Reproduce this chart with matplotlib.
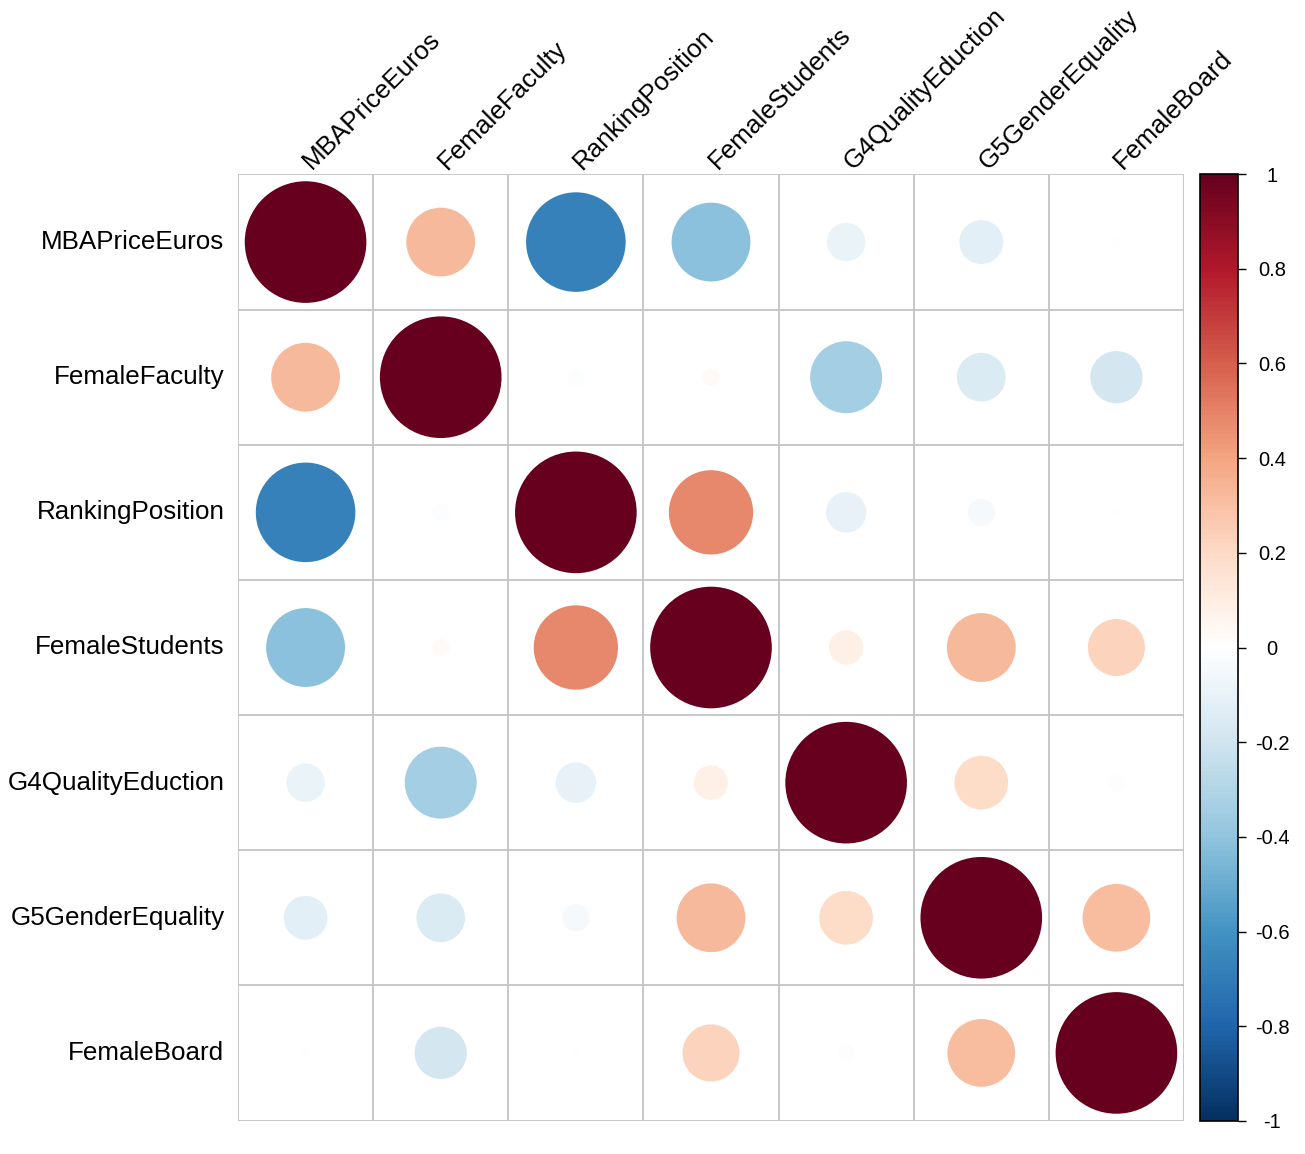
import matplotlib.pyplot as plt
import matplotlib.colors as mcolors
from matplotlib.patches import Circle
import matplotlib.cm as cm
import numpy as np

plt.rcParams['font.family'] = ['Liberation Sans', 'DejaVu Sans']

labels = ['MBAPriceEuros', 'FemaleFaculty', 'RankingPosition', 'FemaleStudents',
          'G4QualityEduction', 'G5GenderEquality', 'FemaleBoard']

# correlation matrix (size + colour)
corr = np.array([
    [1.00, 0.32, -0.67, -0.42, -0.10, -0.13, 0.005],
    [0.32, 1.00, -0.02, 0.02, -0.35, -0.16, -0.185],
    [-0.67, -0.02, 1.00, 0.48, -0.11, -0.05, 0.005],
    [-0.42, 0.02, 0.48, 1.00, 0.08, 0.32, 0.22],
    [-0.10, -0.35, -0.11, 0.08, 1.00, 0.195, -0.02],
    [-0.13, -0.16, -0.05, 0.32, 0.195, 1.00, 0.31],
    [0.005, -0.185, 0.005, 0.22, -0.02, 0.31, 1.00],
])

cbar_ticks = [-1, -0.8, -0.6, -0.4, -0.2, 0, 0.2, 0.4, 0.6, 0.8, 1]

# corrplot's RdBu palette (blue = -1, red = +1)
pal = ["#053061", "#2166AC", "#4393C3", "#92C5DE", "#D1E5F0", "#FFFFFF",
       "#FDDBC7", "#F4A582", "#D6604D", "#B2182B", "#67001F"]
cmap = mcolors.LinearSegmentedColormap.from_list('corr_rdbu', pal, N=200)
norm = mcolors.Normalize(vmin=-1, vmax=1)

W, H = 1305, 1154
fig = plt.figure(figsize=(W / 100, H / 100), dpi=100)
ax = fig.add_axes([238 / W, (H - 1121) / H, 946 / W, 947 / H])

n = len(labels)
ax.set_xlim(0, n)
ax.set_ylim(n, 0)
ax.set_aspect('equal')
ax.axis('off')

# grid
for k in range(n + 1):
    ax.plot([k, k], [0, n], color='#C4C4C4', lw=1.3, zorder=1)
    ax.plot([0, n], [k, k], color='#C4C4C4', lw=1.3, zorder=1)

# circles, area proportional to |r|
for i in range(n):
    for j in range(n):
        v = corr[i, j]
        rad = 0.45 * np.sqrt(abs(v))
        ax.add_patch(Circle((j + 0.5, i + 0.5), rad, fc=cmap(norm(v)), ec='none', zorder=2))

# labels
for i, lab in enumerate(labels):
    ax.text(-0.1, i + 0.5, lab, ha='right', va='center', fontsize=18.7)
    ax.text(i + 0.55, -0.03, lab, ha='left', va='baseline', rotation=45,
            rotation_mode='anchor', fontsize=18.7)

# colour legend
cax = fig.add_axes([1200 / W, (H - 1121) / H, 38 / W, 947 / H])
sm = cm.ScalarMappable(norm=norm, cmap=cmap)
cb = fig.colorbar(sm, cax=cax, ticks=cbar_ticks)
cb.outline.set_linewidth(1.2)
cb.ax.set_yticklabels(['%g' % t for t in cbar_ticks])
cb.ax.tick_params(labelsize=14.5, length=6, width=1, pad=18.5)
for t in cb.ax.get_yticklabels():
    t.set_ha('center')

fig.savefig('out.png', dpi=100)
